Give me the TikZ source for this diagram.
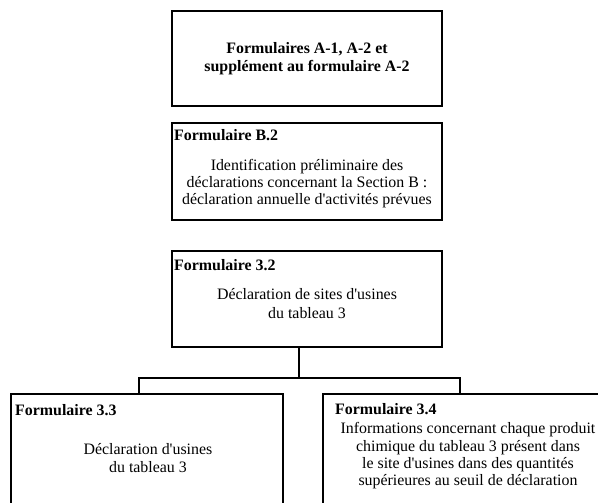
\documentclass[tikz,border=0pt]{standalone}
\usepackage{fontspec}
\setmainfont{Liberation Serif}[Ligatures=TeXOff]
\begin{document}
\begin{tikzpicture}[x=1pt,y=-1pt,
  box/.style={draw,line width=1.8pt,inner sep=0pt},
  conn/.style={draw,line width=1.8pt},
  head/.style={anchor=west,inner sep=0pt,font=\fontsize{15.9}{17.2}\selectfont\bfseries},
  body/.style={align=center,inner sep=0pt,font=\fontsize{15.9}{17.2}\selectfont},
  bodyw/.style={body,font=\fontsize{15.9}{18.3}\selectfont}]
\useasboundingbox (0,0) rectangle (598,503);
\node[box,line width=2.2pt,minimum width=270pt,minimum height=95pt] (b1) at (307,58.5) {};
\node[box,minimum width=270pt,minimum height=97pt] (b2) at (307,171.5) {};
\node[box,minimum width=270pt,minimum height=96pt] (b3) at (307,299) {};
\node[box,minimum width=272pt,minimum height=130pt] (b4) at (147,459) {};
\node[box,minimum width=290pt,minimum height=130pt] (b5) at (468,459) {};
\node[bodyw,font=\fontsize{15.9}{18.3}\selectfont\bfseries] (t1) at (307,58.5) {Formulaires A-1, A-2 et\\supplément au formulaire A-2};
\node[head] (h2) at (174,135.3) {Formulaire B.2};
\node[body] (t2) at (307,183.3) {Identification préliminaire des\\déclarations concernant la Section B :\\déclaration annuelle d'activités prévues};
\node[head] (h3) at (174,264.6) {Formulaire 3.2};
\node[bodyw] (t3) at (307,303.5) {Déclaration de sites d'usines\\du tableau 3};
\node[head] (h4) at (15,409.6) {Formulaire 3.3};
\node[bodyw] (t4) at (148,458) {Déclaration d'usines\\du tableau 3};
\node[head] (h5) at (335,408.6) {Formulaire 3.4};
\node[body] (t5) at (468,455.8) {Informations concernant chaque produit\\chimique du tableau 3 présent dans\\le site d'usines dans des quantités\\supérieures au seuil de déclaration};
\coordinate (c3) at ([xshift=-8pt]b3.south);
\coordinate (c4) at ([xshift=-8pt]b4.north);
\coordinate (c5) at ([xshift=-8pt]b5.north);
\coordinate (bar) at (299,378);
\draw[conn] (c3) -- (bar) -| (c4);
\draw[conn] (bar) -| (c5);
\end{tikzpicture}
\end{document}
